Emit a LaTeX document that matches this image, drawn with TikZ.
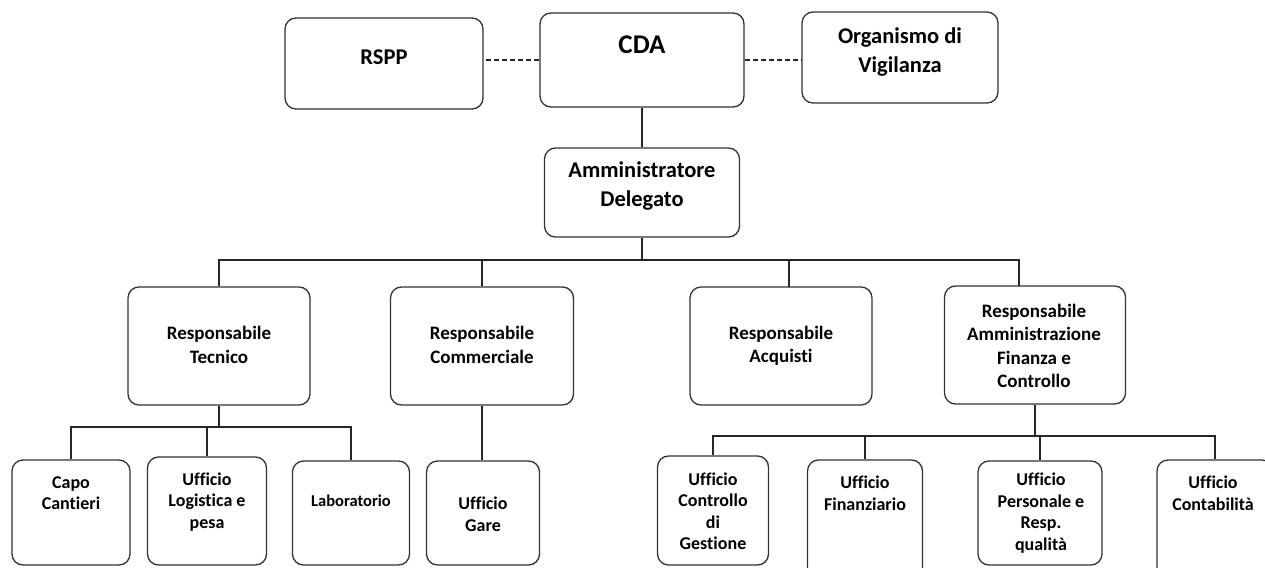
\documentclass[tikz,border=0pt]{standalone}
\usepackage{fontspec}
\setmainfont{Carlito}[Ligatures=NoCommon]
\usetikzlibrary{calc}

\begin{document}
\begin{tikzpicture}[x=1pt, y=-1pt,
	box/.style={draw=black!80, line width=1.3pt, rounded corners=11pt, fill=white, inner sep=0pt},
	big/.style={align=center, inner sep=0pt, font=\bfseries\fontsize{22.5}{28.5}\selectfont},
	mid/.style={align=center, inner sep=0pt, font=\bfseries\fontsize{19}{23.5}\selectfont},
	low/.style={align=center, inner sep=0pt, font=\bfseries\fontsize{18}{21.5}\selectfont},
	link/.style={draw=black!85, line width=1.4pt},
	dashlink/.style={link, dash pattern=on 5pt off 3pt}]
	
	\useasboundingbox (0,0) rectangle (1265,567);
	\clip (0,0) rectangle (1265,567);
	
	% vertice
	\node [box, minimum width=198, minimum height=91] (rspp) at (384,63.5) {};
	\node [box, minimum width=204, minimum height=94] (cda) at (642,60) {};
	\node [box, minimum width=196, minimum height=91] (odv) at (900,57.5) {};
	\node [box, minimum width=195, minimum height=89] (ad) at (642,192.5) {};
	
	% responsabili
	\node [box, minimum width=182, minimum height=118] (rt) at (219,346) {};
	\node [box, minimum width=183, minimum height=118] (rc) at (482,346) {};
	\node [box, minimum width=182, minimum height=118] (ra) at (781,346) {};
	\node [box, minimum width=181, minimum height=118] (rafc) at (1035,345) {};
	
	% uffici
	\node [box, minimum width=118, minimum height=105] (cc) at (71,512.5) {};
	\node [box, minimum width=119, minimum height=108] (ulp) at (207,511) {};
	\node [box, minimum width=117, minimum height=104] (lab) at (351,513) {};
	\node [box, minimum width=113, minimum height=104] (gare) at (483,513) {};
	\node [box, minimum width=111, minimum height=109] (ucg) at (713,510.5) {};
	\node [box, minimum width=115, minimum height=120] (uf) at (865,520) {};
	\node [box, minimum width=124, minimum height=104] (uprq) at (1040,513) {};
	\node [box, minimum width=116, minimum height=120] (uc) at (1215,520) {};
	
	% collegamenti
	\draw [dashlink] (cda.west) -- (cda.west -| rspp.east);
	\draw [dashlink] (cda.east) -- (cda.east -| odv.west);
	\draw [link] (cda.south) -- (cda.south |- ad.north);
	
	\coordinate (bus1) at (0,260);
	\coordinate (ra-in) at (789,287);
	\coordinate (rafc-in) at (1019,286);
	\draw [link] (ad.south) -- (ad.south |- bus1);
	\draw [link] (rt.north) -- (rt.north |- bus1) -- (rafc-in |- bus1) -- (rafc-in);
	\draw [link] (rc.north) -- (rc.north |- bus1);
	\draw [link] (ra-in) -- (ra-in |- bus1);
	
	\coordinate (bus2) at (0,427);
	\draw [link] (rt.south) -- (rt.south |- bus2);
	\draw [link] (cc.north) -- (cc.north |- bus2) -- (lab.north |- bus2) -- (lab.north);
	\draw [link] (ulp.north) -- (ulp.north |- bus2);
	\draw [link] (rc.south) -- (rc.south |- gare.north);
	
	\coordinate (bus3) at (0,436);
	\draw [link] (rafc.south) -- (rafc.south |- bus3);
	\draw [link] (ucg.north) -- (ucg.north |- bus3) -- (uc.north |- bus3) -- (uc.north);
	\draw [link] (uf.north) -- (uf.north |- bus3);
	\draw [link] (uprq.north) -- (uprq.north |- bus3);
	
	% testi
	\node [big] (rspp-t) at (384,57.5) {RSPP};
	\node [big, font=\bfseries\fontsize{27}{32}\selectfont] (cda-t) at (642,45) {CDA};
	\node [big] (odv-t) at (900,52) {Organismo di\\Vigilanza};
	\node [big] (ad-t) at (642,186) {Amministratore\\Delegato};
	
	\node [mid] (rt-t) at (219,345) {Responsabile\\Tecnico};
	\node [mid] (rc-t) at (482,345) {Responsabile\\Commerciale};
	\node [mid] (ra-t) at (781,346) {Responsabile\\Acquisti};
	\node [mid] (rafc-t) at (1034,346) {Responsabile\\Amministrazione\\Finanza e\\Controllo};
	
	\node [low] (cc-t) at (71,493) {Capo\\Cantieri};
	\node [low] (ulp-t) at (207,502) {Ufficio\\Logistica e\\pesa};
	\node [low, font=\bfseries\fontsize{16.5}{20}\selectfont] (lab-t) at (351,501) {Laboratorio};
	\node [low] (gare-t) at (483,514) {Ufficio\\Gare};
	\node [low] (ucg-t) at (713,511) {Ufficio\\Controllo\\di\\Gestione};
	\node [low] (uf-t) at (865,493) {Ufficio\\Finanziario};
	\node [low] (uprq-t) at (1041,513) {Ufficio\\Personale e\\Resp.\\qualità};
	\node [low] (uc-t) at (1213,493) {Ufficio\\Contabilità};
	
\end{tikzpicture}
\end{document}
